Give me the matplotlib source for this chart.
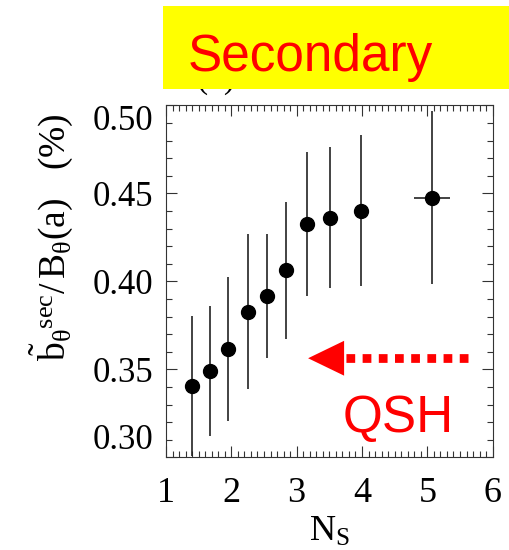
import numpy as np
import matplotlib
matplotlib.use('Agg')
import matplotlib.pyplot as plt
from matplotlib.patches import Rectangle, Polygon
from matplotlib.ticker import MultipleLocator

plt.rcParams['font.family'] = ['Liberation Serif', 'DejaVu Serif']
plt.rcParams['mathtext.fontset'] = 'custom'
plt.rcParams['mathtext.rm'] = 'Liberation Serif'
plt.rcParams['mathtext.it'] = 'Liberation Serif'
plt.rcParams['mathtext.bf'] = 'Liberation Serif:bold'

# data
ns = [1.40, 1.68, 1.95, 2.25, 2.54, 2.84, 3.16, 3.51, 3.98, 5.07]
b_sec = [0.3405, 0.3492, 0.3617, 0.3827, 0.3917, 0.4062, 0.4327, 0.4361, 0.4401, 0.4475]
b_err = [0.040, 0.037, 0.041, 0.044, 0.035, 0.039, 0.041, 0.040, 0.043, 0.049]
ns_err = [0, 0, 0, 0, 0, 0, 0, 0, 0, 0.28]

xticks = [1, 2, 3, 4, 5, 6]
yticks = [0.30, 0.35, 0.40, 0.45, 0.50]
ytick_labels = ['0.30', '0.35', '0.40', '0.45', '0.50']

# QSH arrow (data coords)
arrow_y = 0.3563
arrow_tail_x = 5.625
arrow_base_x = 3.726
arrow_tip_x = 3.175
arrow_half_h = 0.0099

fig = plt.figure(figsize=(5.1, 5.5), dpi=100)
ax = fig.add_axes([0.3255, 0.1685, 0.6405, 0.64])

ax.errorbar(ns, b_sec, yerr=b_err, xerr=ns_err, fmt='o', color='black',
            ecolor='#222222', elinewidth=1.2, capsize=0, markersize=10, zorder=3)

# dotted arrow pointing to QSH side
ax.plot([arrow_tail_x, arrow_base_x], [arrow_y, arrow_y], color='red', lw=6.3,
        dashes=(1.0, 0.85), solid_capstyle='butt', dash_capstyle='butt', zorder=2)
ax.add_patch(Polygon([[arrow_tip_x, arrow_y],
                      [arrow_base_x, arrow_y + arrow_half_h],
                      [arrow_base_x, arrow_y - arrow_half_h]],
                     closed=True, color='red', lw=0, zorder=2))
ax.text(4.55, 0.3222, 'QSH', color='red', fontsize=37, family='Liberation Sans',
        ha='center', va='center')

ax.set_xlim(1, 6)
ax.set_ylim(0.30, 0.50)
ax.set_xticks(xticks)
ax.set_yticks(yticks)
ax.set_yticklabels(ytick_labels)
ax.xaxis.set_minor_locator(MultipleLocator(0.1))
ax.yaxis.set_minor_locator(MultipleLocator(0.01))
ax.tick_params(which='both', direction='in', top=True, right=True, width=0.8, color='#333333')
ax.tick_params(which='major', length=8)
ax.tick_params(which='minor', length=4)
ax.tick_params(axis='x', pad=14, labelsize=26)
ax.tick_params(axis='y', pad=9, labelsize=25)
for sp in ax.spines.values():
    sp.set_linewidth(0.8)
    sp.set_color('#333333')

ylabs = ax.get_yticklabels()
ylabs[0].set_va('bottom')
ylabs[-1].set_va('top')

ax.set_xlabel(r'N$_{\rm S}$', fontsize=26, labelpad=4)
ax.set_ylabel(r'$\tilde{\rm b}_{\theta}{}^{\rm sec}/\,{\rm B}_{\theta}({\rm a})$   (%)', fontsize=27)
ax.yaxis.set_label_coords(-0.28, 0.625)

# panel title partly hidden behind the yellow box
fig.text(216 / 510, 1 - 95 / 550, '(b)', fontsize=24, ha='center', va='bottom', zorder=1)
fig.patches.append(Rectangle((163 / 510, 1 - 89 / 550), 347 / 510, 83 / 550,
                             transform=fig.transFigure, facecolor='yellow',
                             edgecolor='none', zorder=2))
fig.text(310 / 510, 1 - 71 / 550, 'Secondary', color='red', fontsize=37,
         family='Liberation Sans', ha='center', va='baseline', zorder=3)

fig.savefig('out.png', dpi=100)
